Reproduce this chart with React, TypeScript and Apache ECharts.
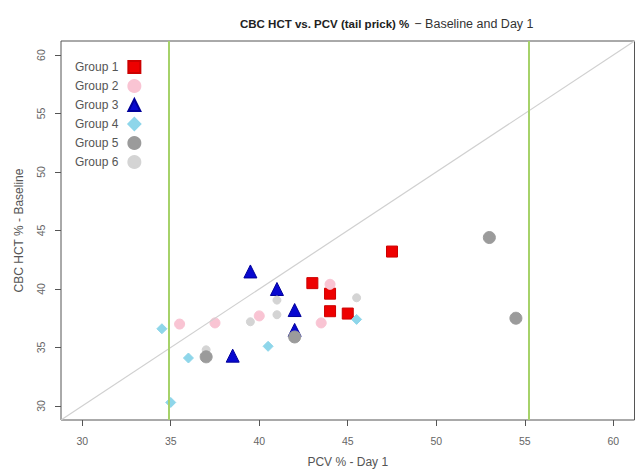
import React, { useEffect, useRef } from "react";
import * as echarts from "echarts";

const groupNames = ["Group 1", "Group 2", "Group 3", "Group 4", "Group 5", "Group 6"];
const group1 = [[43.0, 40.5], [44.0, 39.6], [44.0, 38.1], [45.0, 37.9], [47.5, 43.2]];
const group2 = [[44.0, 40.4], [43.5, 37.1], [40.0, 37.7], [37.5, 37.1], [35.5, 37.0]];
const group3 = [[39.5, 41.5], [41.0, 40.0], [42.0, 38.2], [42.0, 36.5], [38.5, 34.3]];
const group4 = [[34.5, 36.6], [36.0, 34.1], [40.5, 35.1], [45.5, 37.4], [35.0, 30.3]];
const group5 = [[42.0, 35.9], [37.0, 34.2], [53.0, 44.4], [54.5, 37.5]];
const group6 = [[41.0, 39.05], [41.0, 37.8], [39.5, 37.2], [45.5, 39.25], [37.0, 34.8]];
const tickValues = [30, 35, 40, 45, 50, 55, 60];
const axisMin = 28.8;
const axisMax = 61.2;
const refLines = [34.9, 55.2];
const identityLine = [[28.8, 28.8], [61.2, 61.2]];

const FONT = "Liberation Sans, Arial, sans-serif";

export default function App() {
  const ref = useRef<HTMLDivElement>(null);
  useEffect(() => {
    if (!ref.current) return;
    const chart = echarts.init(ref.current, null, { renderer: "svg" });
    const axisCommon = {
      type: "value",
      min: axisMin,
      max: axisMax,
      splitLine: { show: false },
      axisLine: { show: false },
      axisTick: { show: true, customValues: tickValues, length: 6, lineStyle: { color: "#555" } },
      nameLocation: "middle",
      nameTextStyle: { color: "#555", fontSize: 12, fontFamily: FONT },
    };
    const scatterBase = (name: string, data: number[][], symbol: string, size: number, color: string, border: string) => ({
      name,
      type: "scatter",
      data,
      symbol,
      symbolSize: size,
      itemStyle: { color, borderColor: border, borderWidth: 1, opacity: 1 },
      emphasis: { disabled: true },
    });
    chart.setOption({
      animation: false,
      title: {
        text: "{b|CBC HCT vs. PCV (tail prick) %} {n|− Baseline and Day 1}",
        left: 235,
        top: 10,
        textStyle: {
          fontWeight: "normal",
          rich: {
            b: { fontWeight: "bold", fontSize: 11.5, color: "#222", fontFamily: FONT },
            n: { fontWeight: "normal", fontSize: 12.5, color: "#333", fontFamily: FONT },
          },
        },
      },
      grid: { left: 61, right: 2.5, top: 41, bottom: 51.5, show: true, borderColor: "#555", borderWidth: 1, backgroundColor: "transparent" },
      legend: {
        orient: "vertical",
        left: 70,
        top: 55,
        align: "right",
        itemWidth: 12,
        itemHeight: 12,
        itemGap: 5,
        textStyle: { color: "#555", fontSize: 12, fontFamily: FONT, padding: [0, 5, 0, 0] },
        data: [
          { name: groupNames[0], icon: "rect" },
          { name: groupNames[1], icon: "circle" },
          { name: groupNames[2], icon: "triangle" },
          { name: groupNames[3], icon: "diamond" },
          { name: groupNames[4], icon: "circle" },
          { name: groupNames[5], icon: "circle" },
        ],
      },
      xAxis: {
        ...axisCommon,
        name: "PCV % - Day 1",
        nameGap: 36,
        axisLabel: { customValues: tickValues, color: "#666", fontSize: 10.5, fontFamily: FONT, margin: 15 },
      },
      yAxis: {
        ...axisCommon,
        name: "CBC HCT % - Baseline",
        nameGap: 36,
        axisLabel: { customValues: tickValues, color: "#666", fontSize: 10.5, fontFamily: FONT, margin: 15, rotate: 90 },
      },
      series: [
        {
          name: "identity",
          type: "line",
          data: identityLine,
          symbol: "none",
          silent: true,
          lineStyle: { color: "#d0d0d0", width: 1.2 },
          markLine: {
            silent: true,
            symbol: "none",
            label: { show: false },
            lineStyle: { color: "#a6d26a", width: 2, type: "solid" },
            data: refLines.map((v) => ({ xAxis: v })),
          },
        },
        scatterBase(groupNames[0], group1, "rect", 11, "#ee0000", "#cc0000"),
        scatterBase(groupNames[1], group2, "circle", 10, "#f9c4d3", "#f9c4d3"),
        scatterBase(groupNames[2], group3, "triangle", 13, "#0808d0", "#00009a"),
        scatterBase(groupNames[3], group4, "diamond", 10, "#8ed6ea", "#8ed6ea"),
        scatterBase(groupNames[5], group6, "circle", 8, "#d4d4d4", "#d4d4d4"),
        scatterBase(groupNames[4], group5, "circle", 12, "#9b9b9b", "#9b9b9b"),
      ],
    });
    return () => chart.dispose();
  }, []);
  return <div ref={ref} style={{ position: "fixed", left: 0, top: 0, width: 637, height: 473, background: "#fff" }} />;
}
